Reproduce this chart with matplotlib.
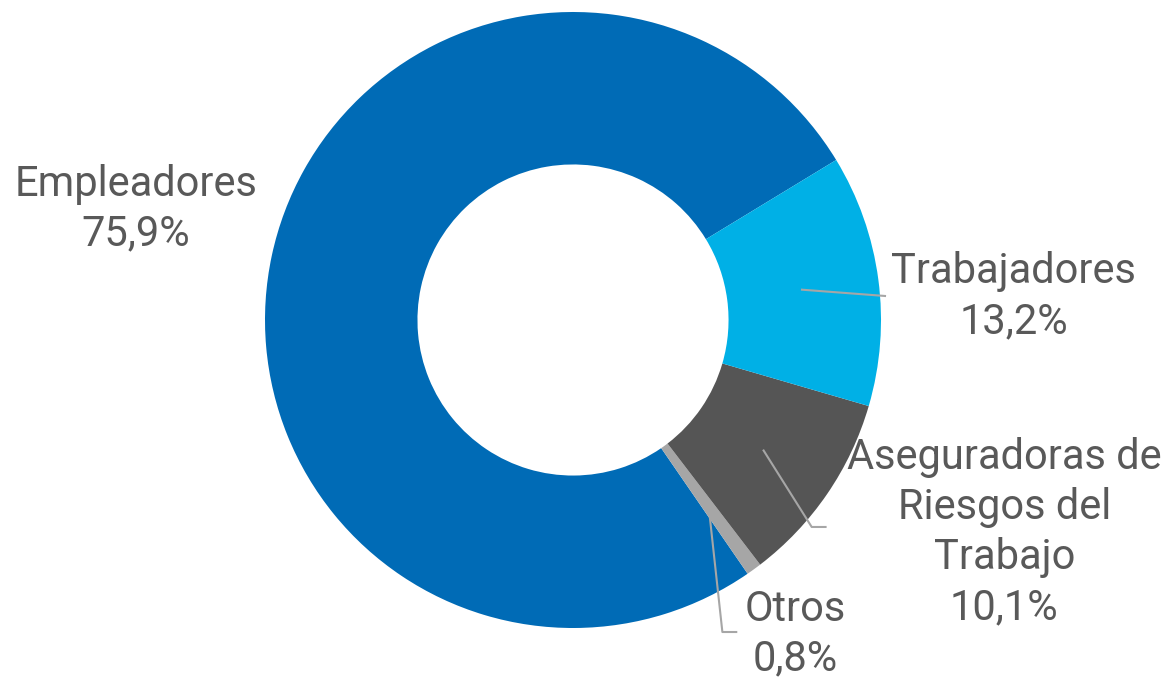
import numpy as np
import matplotlib
matplotlib.use("Agg")
import matplotlib.pyplot as plt

# data, in drawing order (counter-clockwise from Empleadores)
labels = ["Empleadores", "Otros", "Aseguradoras de\nRiesgos del\nTrabajo", "Trabajadores"]
values = [75.9, 0.8, 10.1, 13.2]
colors = ["#006BB6", "#A6A6A6", "#555555", "#00B0E6"]

txt_color = "#595959"
line_color = "#A6A6A6"
plt.rcParams["font.family"] = ["Roboto", "DejaVu Sans"]

fig = plt.figure(figsize=(11.66, 6.78), dpi=100)
ax = fig.add_axes([0, 0, 1, 1])

wedges, _ = ax.pie(values, colors=colors, startangle=31.3, counterclock=True,
                   radius=1.0, wedgeprops=dict(width=0.495, linewidth=0))

scale = 308.0
ax.set_xlim(-573 / scale, (1166 - 573) / scale)
ax.set_ylim(-(678 - 320) / scale, 320 / scale)
ax.set_aspect("equal")
ax.axis("off")

def pct(v):
    return f"{v:.1f}".replace(".", ",") + "%"

# label anchors (text centre), in axis units
label_pos = {
    0: (-1.42, 0.36),
    1: (0.72, -1.02),
    2: (1.40, -0.69),
    3: (1.43, 0.075),
}

for i, w in enumerate(wedges):
    mid = np.deg2rad((w.theta1 + w.theta2) / 2)
    sx, sy = 0.75 * np.cos(mid), 0.75 * np.sin(mid)
    tx, ty = label_pos[i]
    ax.text(tx, ty, f"{labels[i]}\n{pct(values[i])}", ha="center", va="center",
            fontsize=30, color=txt_color, linespacing=1.28)
    if i == 1:
        ax.plot([sx, 0.485, 0.53], [sy, -1.013, -1.013], color=line_color, lw=1.5)
    elif i == 2:
        ax.plot([sx, 0.775, 0.820], [sy, -0.672, -0.672], color=line_color, lw=1.5)
    elif i == 3:
        ax.plot([sx, 1.013], [sy, 0.078], color=line_color, lw=1.5)

fig.savefig("out.png", dpi=100)
